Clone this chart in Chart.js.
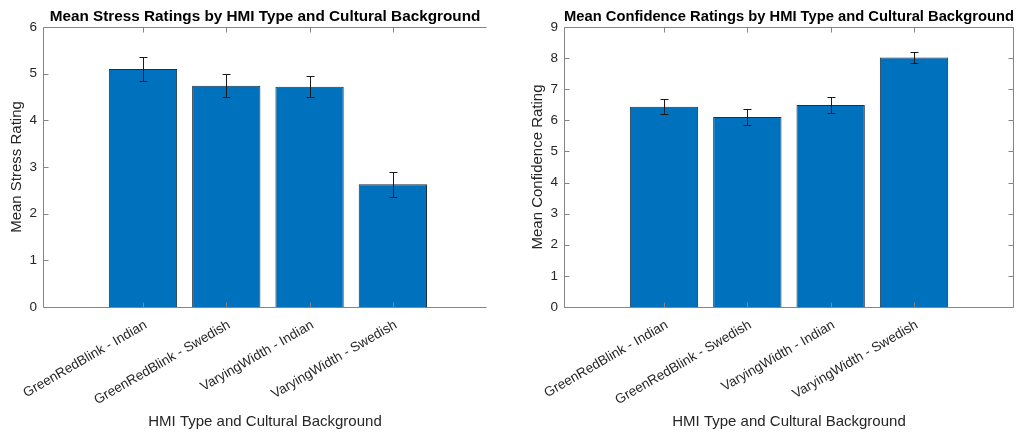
<!DOCTYPE html>
<html>
<head>
<meta charset="utf-8">
<script src="https://cdn.jsdelivr.net/npm/chart.js@4.4.1/dist/chart.umd.min.js"></script>
<style>
  html, body { margin: 0; padding: 0; background: #ffffff; }
  #wrap { position: relative; width: 1026px; height: 432px; overflow: hidden; }
  .panel { position: absolute; top: 0; height: 432px; }
  #p1 { left: 0; width: 500px; }
  #p2 { left: 513px; width: 513px; }
</style>
</head>
<body>
<div id="wrap">
  <div class="panel" id="p1"><canvas id="stressChart" width="500" height="432"></canvas></div>
  <div class="panel" id="p2"><canvas id="confidenceChart" width="513" height="432"></canvas></div>
</div>
<script>
// Groups shown on both panels
const categories = [
  'GreenRedBlink - Indian',
  'GreenRedBlink - Swedish',
  'VaryingWidth - Indian',
  'VaryingWidth - Swedish'
];

// Mean stress ratings and their standard errors
const stressMean = [5.10, 4.74, 4.72, 2.63];
const stressErr  = [0.25, 0.25, 0.23, 0.27];

// Mean confidence ratings and their standard errors
const confidenceMean = [6.44, 6.11, 6.49, 8.02];
const confidenceErr  = [0.24, 0.26, 0.25, 0.19];

// Y-axis tick values
const stressTicks = [0, 1, 2, 3, 4, 5, 6];
const confidenceTicks = [0, 1, 2, 3, 4, 5, 6, 7, 8, 9];

const FONT = "'Liberation Sans', Arial, Helvetica, sans-serif";
const BAR_FILL = '#0072BD';
const BAR_EDGE = '#1f2f40';
const AXIS_GRAY = '#858585';
const TEXT_DARK = '#262626';

// Draws error bars plus a MATLAB-style box with inward tick marks
const matlabAxes = {
  id: 'matlabAxes',
  afterDatasetsDraw(chart, args, opts) {
    const ctx = chart.ctx;
    const xs = chart.scales.x, ys = chart.scales.y;
    const area = chart.chartArea;
    const meta = chart.getDatasetMeta(0);
    const means = opts.means, errs = opts.errs;

    ctx.save();
    // error bars
    ctx.strokeStyle = '#1a1a1a';
    ctx.lineWidth = 1;
    meta.data.forEach((bar, i) => {
      const x = Math.round(bar.x) + 0.5;
      const yHi = Math.round(ys.getPixelForValue(means[i] + errs[i])) + 0.5;
      const yLo = Math.round(ys.getPixelForValue(means[i] - errs[i])) + 0.5;
      ctx.beginPath();
      ctx.moveTo(x, yHi); ctx.lineTo(x, yLo);
      ctx.moveTo(x - 4, yHi); ctx.lineTo(x + 4, yHi);
      ctx.moveTo(x - 4, yLo); ctx.lineTo(x + 4, yLo);
      ctx.stroke();
    });

    // axes box
    const L = Math.round(area.left) + 0.5;
    const R = Math.round(area.right) - 0.5;
    const T = Math.round(area.top) + 0.5;
    const B = Math.round(area.bottom) + 0.5;
    const tl = 5;
    ctx.strokeStyle = AXIS_GRAY;
    ctx.beginPath();
    ctx.moveTo(R, T); ctx.lineTo(L, T); ctx.lineTo(L, B); ctx.lineTo(R, B);
    if (opts.rightEdge) { ctx.lineTo(R, T); }
    ctx.stroke();

    ctx.beginPath();
    ys.ticks.forEach(t => {
      const py = Math.round(ys.getPixelForValue(t.value)) + 0.5;
      ctx.moveTo(L, py); ctx.lineTo(L + tl, py);
      if (opts.rightEdge) { ctx.moveTo(R, py); ctx.lineTo(R - tl, py); }
    });
    xs.ticks.forEach(t => {
      const px = Math.round(xs.getPixelForValue(t.value)) + 0.5;
      ctx.moveTo(px, B); ctx.lineTo(px, B - tl);
      ctx.moveTo(px, T); ctx.lineTo(px, T + tl);
    });
    ctx.stroke();
    ctx.restore();
  }
};

function buildChart(canvasId, cfg) {
  const points = cfg.means.map((v, i) => ({ x: i + 1, y: v }));
  return new Chart(document.getElementById(canvasId), {
    type: 'bar',
    data: {
      datasets: [{
        data: points,
        backgroundColor: BAR_FILL,
        borderColor: BAR_EDGE,
        borderWidth: 1,
        categoryPercentage: 0.82,
        barPercentage: 1.0
      }]
    },
    options: {
      responsive: false,
      animation: false,
      devicePixelRatio: 1,
      layout: { padding: { left: 0, right: cfg.padRight, top: 0, bottom: 0 } },
      plugins: {
        legend: { display: false },
        tooltip: { enabled: false },
        title: {
          display: true,
          text: cfg.title,
          fullSize: false,
          color: '#000000',
          font: { family: FONT, size: 15.3, weight: 'bold', lineHeight: 1.15 },
          padding: { top: 8, bottom: 1.4 }
        },
        matlabAxes: { means: cfg.means, errs: cfg.errs, rightEdge: cfg.rightEdge }
      },
      scales: {
        x: {
          type: 'linear',
          offset: false,
          min: -0.2,
          max: cfg.xMax,
          grid: { display: false, drawTicks: false, offset: false },
          border: { display: false },
          afterBuildTicks: (s) => { s.ticks = categories.map((_, i) => ({ value: i + 1 })); },
          afterFit: (s) => { s.height = 125; },
          ticks: {
            autoSkip: false,
            minRotation: 30,
            maxRotation: 30,
            padding: 10,
            labelOffset: 3,
            color: TEXT_DARK,
            font: { family: FONT, size: 13.5 },
            callback: (v) => categories[v - 1] || ''
          },
          title: {
            display: true,
            text: 'HMI Type and Cultural Background',
            color: TEXT_DARK,
            font: { family: FONT, size: 15 },
            padding: { top: 0, bottom: 1 }
          }
        },
        y: {
          min: cfg.yTicks[0],
          max: cfg.yTicks[cfg.yTicks.length - 1],
          grid: { display: false, drawTicks: false },
          border: { display: false },
          afterBuildTicks: (s) => { s.ticks = cfg.yTicks.map(v => ({ value: v })); },
          afterFit: (s) => { s.width = cfg.yWidth; },
          ticks: {
            padding: 6,
            color: TEXT_DARK,
            font: { family: FONT, size: 13.5 }
          },
          title: {
            display: true,
            text: cfg.yTitle,
            color: TEXT_DARK,
            font: { family: FONT, size: 15 },
            padding: { top: cfg.yTitlePad, bottom: 0 }
          }
        }
      }
    },
    plugins: [matlabAxes]
  });
}

buildChart('stressChart', {
  title: 'Mean Stress Ratings by HMI Type and Cultural Background',
  yTitle: 'Mean Stress Rating',
  means: stressMean,
  errs: stressErr,
  yTicks: stressTicks,
  xMax: 5.13,
  yWidth: 43,
  yTitlePad: 8,
  padRight: 13,
  rightEdge: false
});

buildChart('confidenceChart', {
  title: 'Mean Confidence Ratings by HMI Type and Cultural Background',
  yTitle: 'Mean Confidence Rating',
  means: confidenceMean,
  errs: confidenceErr,
  yTicks: confidenceTicks,
  xMax: 5.2,
  yWidth: 51,
  yTitlePad: 15.5,
  padRight: 12,
  rightEdge: true
});
</script>
</body>
</html>
